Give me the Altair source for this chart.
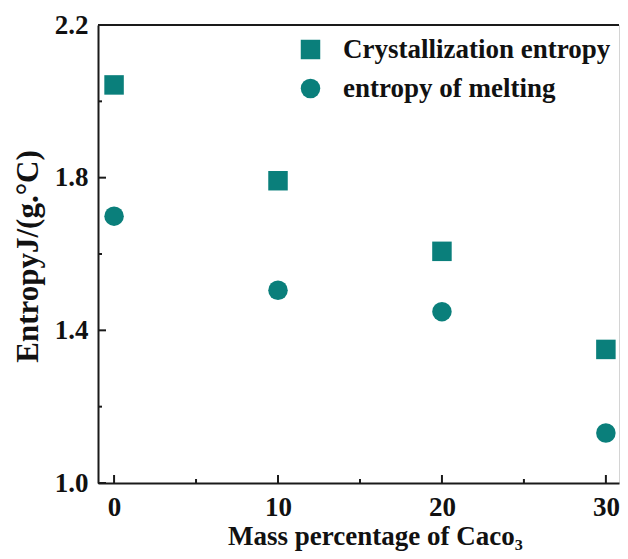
import altair as alt
import pandas as pd

mass = [0, 10, 20, 30]
cryst = [2.043, 1.792, 1.607, 1.350]
melt = [1.699, 1.505, 1.449, 1.131]
series_names = ["Crystallization entropy", "entropy of melting"]

x_major = [0, 10, 20, 30]
x_minor = [5, 15, 25]
y_major = [1.0, 1.4, 1.8, 2.2]
y_minor = [1.2, 1.6, 2.0]

TEAL = "#0a7f7b"
FONT = "Liberation Serif"
W, H = 521, 458

df = pd.DataFrame(
    {"mass": mass * 2,
     "entropy": cryst + melt,
     "series": [series_names[0]] * 4 + [series_names[1]] * 4}
)

xs = alt.Scale(domain=[-0.98, 30.8], nice=False, zero=False)
ys = alt.Scale(domain=[1.0, 2.2], nice=False, zero=False)

leg = dict(title=None, orient="none", legendX=199, legendY=11,
           symbolSize=380, labelFontSize=27, labelFont=FONT,
           labelFontWeight="bold", labelColor="#111111", labelLimit=0,
           labelOffset=19, rowPadding=11, padding=0,
           symbolStrokeWidth=0, symbolOpacity=1)

points = alt.Chart(df).mark_point(filled=True, opacity=1, size=380).encode(
    x=alt.X("mass:Q", scale=xs,
            axis=alt.Axis(values=x_major, title="Mass percentage of Caco₃",
                          ticks=False, labelPadding=32, labelBaseline="alphabetic",
                          titleBaseline="alphabetic", titleY=61, titleX=277,
                          grid=False)),
    y=alt.Y("entropy:Q", scale=ys,
            axis=alt.Axis(values=y_major, format=".1f", title="EntropyJ/(g.°C)",
                          ticks=False, labelPadding=10,
                          titleBaseline="alphabetic", titleX=-61, titleY=231,
                          titleFontSize=31, grid=False)),
    shape=alt.Shape("series:N",
                    scale=alt.Scale(domain=series_names, range=["square", "circle"]),
                    legend=alt.Legend(**leg)),
    color=alt.Color("series:N",
                    scale=alt.Scale(domain=series_names, range=[TEAL, TEAL]),
                    legend=alt.Legend(**leg)),
)

ymaj = pd.DataFrame({"v": y_major})
ymin = pd.DataFrame({"v": y_minor})
xmaj = pd.DataFrame({"v": x_major})
xmin = pd.DataFrame({"v": x_minor})

tick_style = dict(color="#1a1a1a", strokeWidth=2)

ytick_major = alt.Chart(ymaj).mark_rule(**tick_style).encode(
    y=alt.Y("v:Q", scale=ys), x=alt.value(0), x2=alt.value(8))
ytick_minor = alt.Chart(ymin).mark_rule(**tick_style).encode(
    y=alt.Y("v:Q", scale=ys), x=alt.value(0), x2=alt.value(4))
xtick_major = alt.Chart(xmaj).mark_rule(**tick_style).encode(
    x=alt.X("v:Q", scale=xs), y=alt.value(H), y2=alt.value(H - 8))
xtick_minor = alt.Chart(xmin).mark_rule(**tick_style).encode(
    x=alt.X("v:Q", scale=xs), y=alt.value(H), y2=alt.value(H - 4))

top_border = alt.Chart(pd.DataFrame({"v": [2.2]})).mark_rule(color="#1a1a1a", strokeWidth=2).encode(
    y=alt.Y("v:Q", scale=ys), x=alt.value(0), x2=alt.value(W))

chart = alt.layer(
    top_border, ytick_major, ytick_minor, xtick_major, xtick_minor, points
).resolve_legend(shape="shared", color="shared").properties(
    width=W, height=H,
    padding={"left": 90, "top": 17, "right": 1, "bottom": 68},
    autosize="none",
).configure_view(
    stroke="#d4d4d4", strokeWidth=1
).configure_axis(
    domainColor="#1a1a1a", domainWidth=2, labelLimit=0,
    labelFont=FONT, labelFontSize=27, labelFontWeight="bold", labelColor="#111111",
    titleFont=FONT, titleFontSize=27, titleFontWeight="bold", titleColor="#111111",
)

chart.save("out.html", embed_options={"renderer": "svg", "actions": False})
